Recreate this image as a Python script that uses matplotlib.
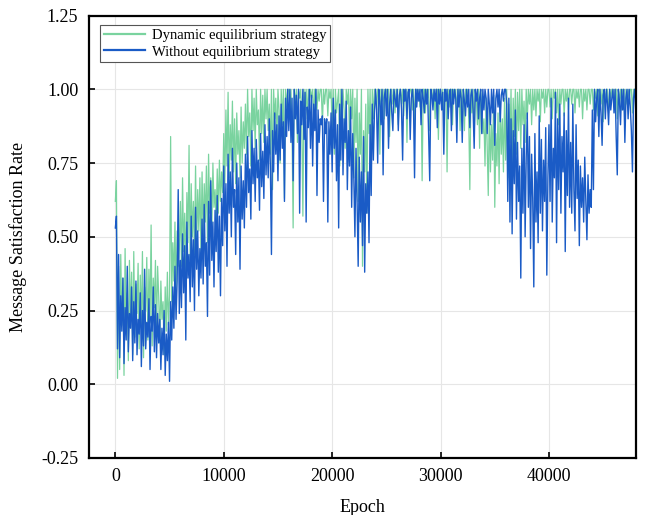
import matplotlib
matplotlib.use("Agg")
import matplotlib.pyplot as plt
import numpy as np

# Epochs are sampled every 100 from 0 to 48000; each row below covers 2000 epochs
EPOCH_START = 0
EPOCH_STEP = 100

# "Dynamic equilibrium strategy" (green)
dynamic_rate = [
    0.62, 0.69, 0.02, 0.40, 0.05, 0.44, 0.20, 0.36, 0.03, 0.46, 0.18, 0.31, 0.08, 0.42, 0.22, 0.38, 0.10, 0.45, 0.16, 0.34,
    0.24, 0.41, 0.12, 0.37, 0.20, 0.45, 0.09, 0.33, 0.25, 0.43, 0.15, 0.39, 0.21, 0.54, 0.13, 0.36, 0.26, 0.42, 0.17, 0.40,
    0.30, 0.14, 0.35, 0.22, 0.28, 0.10, 0.33, 0.18, 0.38, 0.20, 0.30, 0.84, 0.28, 0.48, 0.35, 0.55, 0.30, 0.52, 0.40, 0.46,
    0.62, 0.40, 0.70, 0.45, 0.58, 0.38, 0.65, 0.48, 0.81, 0.42, 0.68, 0.50, 0.62, 0.44, 0.74, 0.47, 0.66, 0.52, 0.70, 0.45,
    0.72, 0.50, 0.68, 0.55, 0.74, 0.48, 0.78, 0.58, 0.70, 0.52, 0.75, 0.60, 0.66, 0.55, 0.73, 0.58, 0.76, 0.62, 0.72, 0.65,
    0.85, 0.68, 0.93, 0.74, 0.99, 0.70, 0.88, 0.76, 0.96, 0.72, 0.90, 0.68, 0.92, 0.78, 0.86, 0.70, 0.94, 0.75, 0.89, 0.80,
    0.95, 0.78, 1.00, 0.84, 0.92, 0.74, 1.00, 0.86, 0.97, 0.80, 1.00, 0.88, 0.93, 0.76, 1.00, 0.85, 0.98, 0.82, 1.00, 0.90,
    1.00, 0.86, 0.95, 0.78, 1.00, 0.66, 1.00, 0.90, 0.97, 0.82, 1.00, 0.93, 0.75, 1.00, 0.88, 1.00, 0.63, 1.00, 0.94, 1.00,
    1.00, 0.92, 1.00, 0.86, 0.53, 1.00, 0.95, 1.00, 0.82, 1.00, 0.97, 1.00, 0.88, 0.57, 1.00, 0.93, 1.00, 0.90, 1.00, 0.96,
    1.00, 0.97, 1.00, 0.90, 1.00, 1.00, 0.93, 1.00, 0.96, 1.00, 1.00, 0.88, 1.00, 0.95, 1.00, 1.00, 0.91, 1.00, 0.97, 1.00,
    0.85, 1.00, 0.78, 1.00, 0.92, 0.96, 1.00, 0.74, 1.00, 0.88, 1.00, 0.93, 0.80, 1.00, 0.95, 1.00, 0.84, 1.00, 0.90, 1.00,
    0.70, 0.97, 0.82, 1.00, 0.62, 0.92, 0.78, 1.00, 0.40, 0.86, 0.72, 0.95, 0.58, 1.00, 0.85, 1.00, 0.76, 1.00, 0.90, 1.00,
    1.00, 0.93, 1.00, 1.00, 0.78, 1.00, 0.96, 1.00, 0.90, 1.00, 1.00, 0.97, 1.00, 0.84, 1.00, 1.00, 0.95, 1.00, 0.92, 1.00,
    1.00, 0.88, 1.00, 1.00, 0.95, 1.00, 0.91, 1.00, 1.00, 0.82, 1.00, 0.97, 1.00, 1.00, 0.93, 1.00, 0.88, 1.00, 1.00, 0.96,
    1.00, 0.94, 1.00, 0.69, 1.00, 1.00, 0.92, 1.00, 0.97, 1.00, 0.86, 1.00, 1.00, 0.95, 1.00, 0.90, 1.00, 1.00, 0.83, 1.00,
    1.00, 0.96, 1.00, 0.90, 1.00, 1.00, 0.72, 1.00, 0.94, 1.00, 1.00, 0.88, 1.00, 0.97, 1.00, 0.91, 1.00, 1.00, 0.86, 1.00,
    0.93, 1.00, 0.86, 1.00, 0.96, 1.00, 0.90, 0.66, 1.00, 0.92, 1.00, 0.84, 1.00, 0.97, 0.88, 1.00, 0.80, 1.00, 0.94, 0.85,
    0.90, 0.74, 0.97, 0.80, 0.64, 0.95, 0.72, 0.88, 0.76, 0.98, 0.60, 0.85, 0.74, 0.92, 0.68, 0.96, 0.78, 0.90, 0.72, 0.97,
    0.76, 1.00, 0.70, 0.95, 0.82, 1.00, 0.74, 0.97, 0.84, 1.00, 0.78, 0.99, 0.86, 1.00, 0.80, 1.00, 0.88, 0.96, 0.82, 1.00,
    0.90, 1.00, 0.95, 1.00, 0.88, 1.00, 0.93, 1.00, 0.91, 1.00, 0.96, 1.00, 0.89, 1.00, 0.97, 1.00, 0.92, 1.00, 0.94, 1.00,
    1.00, 0.94, 1.00, 0.90, 1.00, 0.97, 1.00, 0.92, 1.00, 0.88, 1.00, 0.95, 1.00, 1.00, 0.91, 1.00, 0.96, 1.00, 0.93, 1.00,
    1.00, 0.95, 1.00, 1.00, 0.92, 1.00, 0.97, 1.00, 0.94, 1.00, 1.00, 0.90, 1.00, 0.96, 1.00, 0.93, 1.00, 1.00, 0.95, 1.00,
    1.00, 0.93, 1.00, 0.97, 1.00, 0.91, 1.00, 1.00, 0.95, 1.00, 0.89, 1.00, 0.96, 1.00, 1.00, 0.92, 1.00, 0.97, 1.00, 1.00,
    0.94, 1.00, 1.00, 0.90, 1.00, 0.96, 1.00, 0.93, 1.00, 1.00, 0.88, 1.00, 0.95, 1.00, 0.97, 1.00, 1.00, 0.92, 1.00, 1.00,
    1.00,
]

# "Without equilibrium strategy" (blue)
without_rate = [
    0.53, 0.57, 0.12, 0.44, 0.09, 0.30, 0.18, 0.36, 0.07, 0.26, 0.15, 0.40, 0.11, 0.24, 0.19, 0.33, 0.08, 0.28, 0.14, 0.35,
    0.10, 0.22, 0.17, 0.31, 0.06, 0.25, 0.13, 0.39, 0.12, 0.21, 0.16, 0.29, 0.05, 0.23, 0.18, 0.33, 0.11, 0.27, 0.09, 0.24,
    0.14, 0.22, 0.05, 0.19, 0.10, 0.25, 0.03, 0.17, 0.08, 0.21, 0.01, 0.28, 0.15, 0.33, 0.19, 0.40, 0.22, 0.35, 0.66, 0.24,
    0.42, 0.26, 0.51, 0.31, 0.47, 0.15, 0.55, 0.36, 0.44, 0.28, 0.57, 0.33, 0.49, 0.25, 0.60, 0.39, 0.52, 0.30, 0.46, 0.36,
    0.56, 0.34, 0.61, 0.40, 0.48, 0.23, 0.62, 0.37, 0.69, 0.42, 0.55, 0.33, 0.59, 0.45, 0.64, 0.38, 0.57, 0.30, 0.63, 0.47,
    0.74, 0.52, 0.68, 0.40, 0.78, 0.58, 0.72, 0.50, 0.80, 0.60, 0.66, 0.44, 0.75, 0.55, 0.70, 0.39, 0.74, 0.56, 0.69, 0.53,
    0.78, 0.60, 0.84, 0.65, 0.73, 0.56, 0.86, 0.68, 0.80, 0.62, 0.83, 0.70, 0.76, 0.59, 0.85, 0.67, 0.79, 0.63, 0.88, 0.71,
    0.84, 0.70, 0.90, 0.74, 0.44, 0.86, 0.72, 0.92, 0.78, 0.88, 0.69, 0.91, 0.76, 0.95, 0.80, 0.89, 0.62, 0.97, 0.84, 1.00,
    0.86, 1.00, 0.82, 0.97, 0.69, 1.00, 0.90, 0.98, 0.85, 1.00, 0.58, 0.96, 0.88, 1.00, 0.83, 0.99, 0.55, 0.94, 0.87, 1.00,
    0.80, 0.98, 0.74, 0.95, 0.86, 1.00, 0.64, 0.93, 0.82, 0.90, 0.88, 0.91, 0.62, 0.90, 0.85, 0.90, 0.55, 0.89, 0.78, 0.92,
    0.72, 0.97, 0.80, 0.93, 0.69, 0.88, 0.53, 0.95, 0.76, 1.00, 0.71, 0.90, 0.82, 0.96, 0.66, 0.86, 0.74, 0.94, 0.60, 0.85,
    0.70, 0.50, 0.80, 0.62, 0.40, 0.77, 0.55, 0.72, 0.47, 0.84, 0.38, 0.68, 0.58, 0.72, 0.48, 0.88, 0.64, 0.95, 0.76, 0.92,
    1.00, 0.93, 0.75, 1.00, 0.96, 0.88, 1.00, 0.71, 0.97, 1.00, 0.91, 1.00, 0.80, 0.95, 1.00, 0.92, 0.86, 1.00, 0.97, 0.94,
    1.00, 0.86, 0.98, 1.00, 0.93, 0.76, 1.00, 0.96, 1.00, 0.90, 0.99, 1.00, 0.83, 0.97, 1.00, 0.95, 0.70, 1.00, 0.94, 1.00,
    0.96, 1.00, 0.88, 1.00, 0.97, 0.92, 1.00, 0.95, 1.00, 0.84, 0.69, 1.00, 0.98, 0.93, 1.00, 0.96, 1.00, 0.87, 1.00, 0.95,
    1.00, 0.93, 0.99, 0.78, 1.00, 0.96, 1.00, 0.90, 0.98, 1.00, 0.86, 1.00, 0.95, 1.00, 0.97, 0.82, 1.00, 0.94, 1.00, 0.97,
    0.82, 1.00, 0.96, 0.91, 1.00, 0.94, 1.00, 0.87, 0.98, 1.00, 0.93, 0.80, 1.00, 0.96, 1.00, 0.90, 0.97, 1.00, 0.85, 1.00,
    0.93, 1.00, 0.97, 0.85, 1.00, 0.95, 0.88, 1.00, 0.92, 1.00, 0.81, 0.97, 1.00, 0.94, 1.00, 0.89, 0.98, 1.00, 0.96, 1.00,
    1.00, 0.95, 0.62, 0.97, 0.55, 0.90, 0.51, 0.86, 0.68, 0.93, 0.56, 0.82, 0.62, 0.74, 0.36, 0.80, 0.58, 0.88, 0.50, 0.77,
    0.92, 0.60, 0.84, 0.46, 0.78, 0.63, 0.33, 0.85, 0.55, 0.72, 0.48, 0.91, 0.58, 0.83, 0.52, 0.76, 0.62, 0.87, 0.37, 0.70,
    0.88, 0.62, 0.97, 0.55, 0.80, 0.70, 0.99, 0.48, 0.90, 0.66, 0.95, 0.58, 0.84, 0.72, 0.92, 0.45, 0.86, 0.64, 0.97, 0.60,
    0.82, 0.58, 0.95, 0.66, 0.52, 0.88, 0.63, 0.76, 0.47, 0.74, 0.60, 0.70, 0.55, 0.77, 0.62, 0.49, 0.71, 0.58, 0.66, 0.60,
    0.93, 0.66, 1.00, 0.89, 0.97, 1.00, 0.84, 1.00, 0.92, 0.81, 0.98, 1.00, 0.90, 1.00, 0.95, 0.88, 1.00, 0.93, 0.97, 1.00,
    0.92, 1.00, 0.84, 0.71, 1.00, 0.96, 0.88, 1.00, 0.93, 1.00, 0.82, 0.97, 1.00, 0.90, 1.00, 0.94, 0.86, 0.72, 0.97, 1.00,
    0.93,
]

series_labels = ["Dynamic equilibrium strategy", "Without equilibrium strategy"]
x_ticks = [0, 10000, 20000, 30000, 40000]
y_ticks = [-0.25, 0.00, 0.25, 0.50, 0.75, 1.00, 1.25]

GREEN = "#7ad39f"
BLUE = "#1a5bc6"

plt.rcParams["font.family"] = ["Liberation Serif", "DejaVu Serif"]

dynamic_epochs = EPOCH_START + EPOCH_STEP * np.arange(len(dynamic_rate))
without_epochs = EPOCH_START + EPOCH_STEP * np.arange(len(without_rate))

figure = plt.figure(figsize=(6.51, 5.15), dpi=100, facecolor="white")
axis = figure.add_axes([0.1372, 0.1107, 0.8393, 0.859])

axis.plot(dynamic_epochs, dynamic_rate, color=GREEN, linewidth=0.9, label=series_labels[0])
axis.plot(without_epochs, without_rate, color=BLUE, linewidth=1.0, label=series_labels[1])

axis.set_xlim(-2400, 48000)
axis.set_ylim(-0.25, 1.25)
axis.set_xticks(x_ticks)
axis.set_yticks(y_ticks)
axis.set_yticklabels([f"{value:.2f}" for value in y_ticks])
axis.tick_params(direction="in", length=4, width=1.2, labelsize=13, pad=8)
axis.tick_params(axis="x", pad=7)
axis.grid(color="#e6e6e6", linewidth=0.8)
axis.set_axisbelow(True)
for spine in axis.spines.values():
    spine.set_linewidth(1.6)
    spine.set_color("black")

axis.set_xlabel("Epoch", fontsize=13, labelpad=10)
axis.set_ylabel("Message Satisfaction Rate", fontsize=13, labelpad=10)

legend = axis.legend(
    loc="upper left",
    bbox_to_anchor=(0.0196, 0.979),
    borderaxespad=0,
    fontsize=10.5,
    fancybox=False,
    framealpha=1,
    edgecolor="#555555",
    handlelength=2.8,
    handletextpad=0.5,
    labelspacing=0.25,
    borderpad=0.25,
)
legend.get_frame().set_linewidth(0.8)
for line in legend.get_lines():
    line.set_linewidth(1.6)

figure.savefig("out.png", dpi=100, facecolor="white")
